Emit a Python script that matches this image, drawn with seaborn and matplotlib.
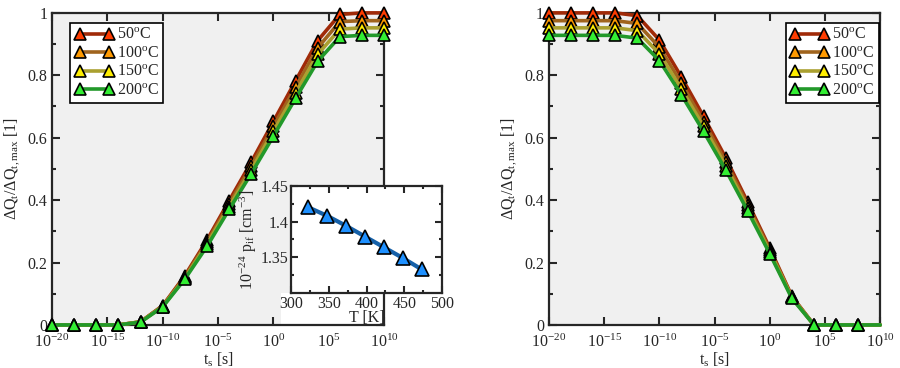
import numpy as np
import pandas as pd
import seaborn as sns
import matplotlib.pyplot as plt
from matplotlib.patches import Rectangle
from matplotlib.lines import Line2D

sns.set_style('ticks')
plt.rcParams['font.family'] = ['Liberation Serif', 'DejaVu Serif']
plt.rcParams['mathtext.fontset'] = 'stix'
plt.rcParams['mathtext.default'] = 'regular'
plt.rcParams['font.size'] = 11

# 시간 축 (10^-20 ~ 10^10, 2 decade 간격)
ts = [1e-20, 1e-18, 1e-16, 1e-14, 1e-12, 1e-10, 1e-8, 1e-6, 1e-4, 1e-2,
      1e0, 1e2, 1e4, 1e6, 1e8, 1e10]

temps = ['50$^{o}$C', '100$^{o}$C', '150$^{o}$C', '200$^{o}$C']

# 왼쪽 그래프 값
left_50 = [0, 0, 0, 0, 0.010, 0.062, 0.158, 0.272, 0.398, 0.522, 0.652, 0.782, 0.911, 0.995, 1.000, 1.000]
left_100 = [0, 0, 0, 0, 0.010, 0.061, 0.154, 0.265, 0.388, 0.509, 0.636, 0.762, 0.888, 0.972, 0.975, 0.975]
left_150 = [0, 0, 0, 0, 0.010, 0.059, 0.150, 0.259, 0.379, 0.497, 0.621, 0.744, 0.867, 0.948, 0.952, 0.952]
left_200 = [0, 0, 0, 0, 0.009, 0.058, 0.147, 0.252, 0.370, 0.485, 0.605, 0.726, 0.845, 0.924, 0.928, 0.928]

# 오른쪽 그래프 값
right_50 = [1.000, 1.000, 1.000, 1.000, 0.991, 0.913, 0.794, 0.668, 0.536, 0.393, 0.246, 0.092, 0, 0, 0, 0]
right_100 = [0.975, 0.975, 0.975, 0.975, 0.966, 0.890, 0.774, 0.651, 0.523, 0.383, 0.240, 0.090, 0, 0, 0, 0]
right_150 = [0.952, 0.952, 0.952, 0.952, 0.943, 0.869, 0.756, 0.636, 0.510, 0.374, 0.234, 0.088, 0, 0, 0, 0]
right_200 = [0.928, 0.928, 0.928, 0.928, 0.919, 0.847, 0.737, 0.620, 0.497, 0.365, 0.228, 0.085, 0, 0, 0, 0]

# inset: 온도 vs p_if
inset_T = [323, 348, 373, 398, 423, 448, 473]
inset_p = [1.420, 1.408, 1.394, 1.379, 1.364, 1.349, 1.333]

line_colors = ['#a02a08', '#a0641e', '#aaa030', '#22992a']
face_colors = ['#ff3c00', '#ff9a00', '#ffee00', '#33ee33']

fig = plt.figure(figsize=(9, 3.68), dpi=100)
ax1 = fig.add_axes([0.0578, 0.117, 0.369, 0.848])
ax2 = fig.add_axes([0.610, 0.117, 0.368, 0.848])


def style_main(ax):
    ax.set_facecolor('#f0f0f0')
    ax.set_xscale('log')
    ax.set_xlim(1e-20, 1e10)
    ax.set_ylim(0, 1)
    ax.set_xticks([1e-20, 1e-15, 1e-10, 1e-5, 1e0, 1e5, 1e10])
    ax.xaxis.set_minor_locator(plt.NullLocator())
    ax.set_yticks([0, 0.2, 0.4, 0.6, 0.8, 1.0])
    ax.set_yticklabels(['0', '0.2', '0.4', '0.6', '0.8', '1'])
    ax.set_yticks([0.1, 0.3, 0.5, 0.7, 0.9], minor=True)
    ax.tick_params(which='both', direction='in', top=True, right=True, width=1.5)
    ax.tick_params(which='major', length=6, labelsize=11.5)
    ax.tick_params(which='minor', length=3)
    ax.tick_params(axis='x', pad=6)
    for s in ax.spines.values():
        s.set_linewidth(1.6)
        s.set_zorder(5)
    ax.set_xlabel('t$_s$ [s]', fontsize=11.5, labelpad=0)
    ax.set_ylabel('$\\Delta$Q$_t$/$\\Delta$Q$_{t,max}$ [1]', fontsize=11.5)


def draw_series(ax, series, nmark):
    for vals, lc, fc, lab in zip(series, line_colors, face_colors, temps):
        sns.lineplot(x=ts, y=vals, ax=ax, color=lc, lw=2.6, marker='^', markersize=8.5,
                     markerfacecolor=fc, markeredgecolor='black', markeredgewidth=1.2,
                     markevery=list(range(nmark)), clip_on=False, zorder=6, label=lab)
    h = [Line2D([], [], color=lc, lw=2.6, marker='^', markersize=8.5, markerfacecolor=fc,
                markeredgecolor='black', markeredgewidth=1.2) for lc, fc in zip(line_colors, face_colors)]
    return h


h = draw_series(ax1, [left_50, left_100, left_150, left_200], 16)
draw_series(ax2, [right_50, right_100, right_150, right_200], 15)
style_main(ax1)
style_main(ax2)

for ax, loc in [(ax1, (0.055, 0.71)), (ax2, (0.715, 0.71))]:
    leg = ax.legend(h, temps, loc='lower left', bbox_to_anchor=loc, numpoints=2, handlelength=2.4,
                    handletextpad=0.2, labelspacing=0.15, borderpad=0.3, fontsize=11.5,
                    fancybox=False, framealpha=1, edgecolor='black', borderaxespad=0)
    leg.get_frame().set_linewidth(1.2)
    leg.set_zorder(10)

# inset 라벨 영역 흰 배경
ax1.add_patch(Rectangle((0.69, 0.0), 0.31, 0.103, transform=ax1.transAxes,
                        facecolor='white', edgecolor='none', zorder=1))

axin = fig.add_axes([0.3233, 0.2038, 0.168, 0.291])
axin.set_facecolor('white')
sns.lineplot(x=inset_T, y=inset_p, ax=axin, color='#1560a8', lw=3, marker='^', markersize=10,
             markerfacecolor='#1e90ff', markeredgecolor='black', markeredgewidth=1.2, clip_on=False)
axin.set_xlim(300, 500)
axin.set_ylim(1.30, 1.45)
axin.set_xticks([300, 350, 400, 450, 500])
axin.set_xticks([325, 375, 425, 475], minor=True)
axin.set_yticks([1.35, 1.40, 1.45])
axin.set_yticklabels(['1.35', '1.4', '1.45'])
axin.set_yticks([1.325, 1.375, 1.425], minor=True)
axin.tick_params(which='both', direction='in', top=True, right=True, width=1.5, labelsize=11.5, pad=2)
axin.tick_params(which='major', length=5)
axin.tick_params(which='minor', length=2.5)
for s in axin.spines.values():
    s.set_linewidth(1.6)
axin.set_xlabel('T [K]', fontsize=11.5, labelpad=-1)
axin.set_ylabel('10$^{-24}$ p$_{if}$ [cm$^{-3}$]', fontsize=11.5, labelpad=1)

fig.savefig('out.png', dpi=100)
